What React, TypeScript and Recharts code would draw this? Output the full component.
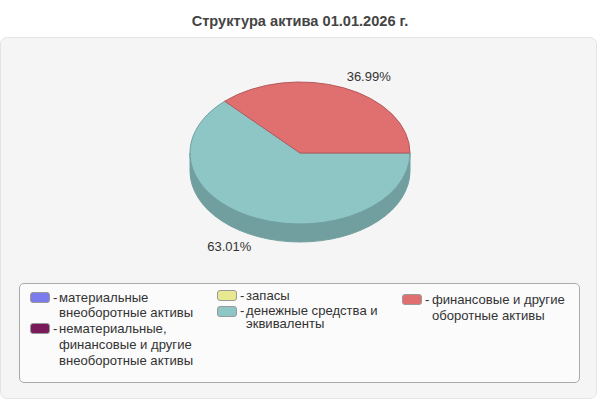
import React from "react";
import { PieChart, Pie, Legend } from "recharts";

const title = "Структура актива 01.01.2026 г.";
const categories = [
  "материальные внеоборотные активы",
  "нематериальные, финансовые и другие внеоборотные активы",
  "запасы",
  "денежные средства и эквиваленты",
  "финансовые и другие оборотные активы",
];
const values = [0, 0, 0, 63.01, 36.99];
const topColors = ["#7b7bee", "#7a1a5a", "#e8e890", "#8ec6c6", "#e07070"];
const sideColors = ["#5c5cb2", "#5c1444", "#aeae6c", "#719f9f", "#a85454"];
const edgeColors = ["#6a6ad0", "#6a1650", "#c8c87c", "#6f9fa0", "#b5595b"];

const data = categories.map((name, i) => ({
  name,
  value: values[i],
  fill: topColors[i],
  side: sideColors[i],
  edge: edgeColors[i],
}));

const SQUASH = 71 / 110;
const DEPTH = 18;

// x, y, swatch centre y, line height, text width of each legend entry, in page pixels
const legendLayout = [
  { x: 30, textX: 59, top: 289.5, sw: 297, lh: 15.8, w: 145 },
  { x: 30, textX: 59, top: 321, sw: 328.5, lh: 15.8, w: 145 },
  { x: 217, textX: 246, top: 288.5, sw: 295.5, lh: 13, w: 145 },
  { x: 217, textX: 246, top: 303.5, sw: 311.5, lh: 13, w: 145 },
  { x: 402, textX: 432, top: 292, sw: 299.5, lh: 16, w: 145 },
];

const RAD = Math.PI / 180;

function Slice(props: any) {
  const { cx, cy, outerRadius, startAngle, endAngle, payload } = props;
  const lo = Math.min(startAngle, endAngle);
  const hi = Math.max(startAngle, endAngle);
  if (hi - lo <= 0) return null;
  const rx = outerRadius;
  const ry = outerRadius * SQUASH;
  const px = (a: number) => cx + rx * Math.cos(a * RAD);
  const py = (a: number) => cy - ry * Math.sin(a * RAD);
  const arc = (a: number, b: number, dy: number, sweep: number) =>
    `A ${rx} ${ry} 0 ${Math.abs(b - a) > 180 ? 1 : 0} ${sweep} ${px(b)} ${py(b) + dy}`;
  const wallLo = Math.max(lo, 180);
  const wall =
    hi > 180
      ? `M ${px(wallLo)} ${py(wallLo)} ${arc(wallLo, hi, 0, 0)} L ${px(hi)} ${py(hi) + DEPTH} ${arc(hi, wallLo, DEPTH, 1)} Z`
      : null;
  const top = `M ${cx} ${cy} L ${px(lo)} ${py(lo)} ${arc(lo, hi, 0, 0)} Z`;
  return (
    <g>
      {wall && <path d={wall} fill={payload.side} stroke={payload.side} strokeWidth={1} />}
      <path d={top} fill={payload.fill} stroke={payload.edge} strokeWidth={1} strokeLinejoin="round" />
    </g>
  );
}

function SliceLabel(props: any) {
  const { cx, cy, outerRadius, midAngle, value } = props;
  if (!value) return null;
  const c = Math.cos(midAngle * RAD);
  const s = Math.sin(midAngle * RAD);
  const x = cx + outerRadius * c + (c > 0 ? 25 : -27);
  const y = cy - outerRadius * SQUASH * s + (s > 0 ? -11 : 28);
  return (
    <text x={x} y={y} textAnchor="middle" dominantBaseline="central" fontFamily="Liberation Sans" fontSize={13} fill="#333">
      {value.toFixed(2)}%
    </text>
  );
}

const LEGEND_LEFT = 19;
const LEGEND_TOP = 283;

function LegendBox(props: any) {
  const items = props.payload || [];
  return (
    <div style={{ position: "relative", width: 561, height: 100, boxSizing: "border-box", background: "#fbfbfb", border: "1px solid #aaaaaa", borderRadius: 5, fontFamily: "Liberation Sans", fontSize: 13.1, color: "#333" }}>
      {items.map((it: any, i: number) => {
        const l = legendLayout[i];
        const X = -LEGEND_LEFT - 1;
        const Y = -LEGEND_TOP - 1;
        return (
          <React.Fragment key={i}>
            <div style={{ position: "absolute", left: l.x + X, top: l.sw - 5.5 + Y, width: 20, height: 11, boxSizing: "border-box", background: topColors[i], border: "1px solid #999", borderRadius: 3 }} />
            <div style={{ position: "absolute", left: l.x + X + 23, top: l.top + Y, lineHeight: `${l.lh}px` }}>-</div>
            <div style={{ position: "absolute", left: l.textX + X, top: l.top + Y, width: l.w, lineHeight: `${l.lh}px`, textAlign: "left" }}>{it.value}</div>
          </React.Fragment>
        );
      })}
    </div>
  );
}

export default function App() {
  return (
    <div style={{ position: "absolute", left: 0, top: 0, width: 600, height: 400, background: "#fff", overflow: "hidden" }}>
      <div style={{ position: "absolute", left: 0, top: 37, width: 597, height: 362, boxSizing: "border-box", background: "#f5f5f5", border: "1px solid #e4e4e4", borderRadius: 7 }} />
      <div style={{ position: "absolute", left: 0, top: 13, width: 600, textAlign: "center", fontFamily: "Liberation Sans", fontWeight: "bold", fontSize: 14.6, color: "#444" }}>{title}</div>
      <div style={{ position: "absolute", left: 0, top: 0 }}>
        <PieChart width={600} height={400} margin={{ top: 0, right: 0, bottom: 0, left: 0 }}>
          <Pie
            data={data}
            dataKey="value"
            nameKey="name"
            cx={300}
            cy={153}
            innerRadius={0}
            outerRadius={110}
            startAngle={360}
            endAngle={0}
            paddingAngle={0}
            isAnimationActive={false}
            labelLine={false}
            label={SliceLabel}
            shape={Slice}
          />
          <Legend
            content={LegendBox}
            itemSorter={null}
            wrapperStyle={{ position: "absolute", left: LEGEND_LEFT, top: LEGEND_TOP, width: 561, height: 100, bottom: "auto", right: "auto" }}
          />
        </PieChart>
      </div>
    </div>
  );
}
